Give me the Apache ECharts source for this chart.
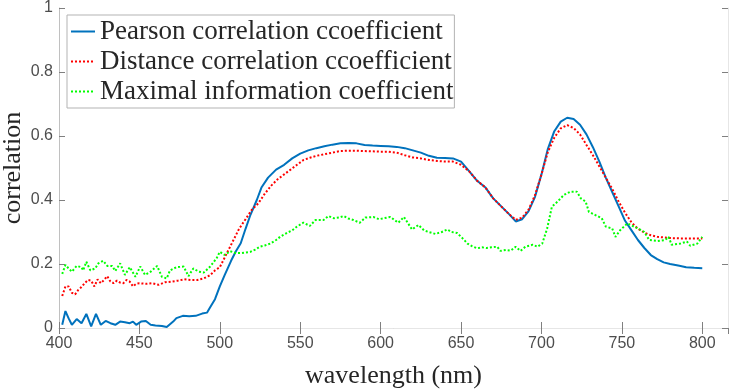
<!DOCTYPE html>
<html>
<head>
<meta charset="utf-8">
<script src="https://cdn.jsdelivr.net/npm/echarts@6/dist/echarts.min.js"></script>
<style>html,body{margin:0;padding:0;background:#fff;}#chart{width:732px;height:391px;}</style>
</head>
<body>
<div id="chart"></div>
<script>
var seriesNames = ['Pearson correlation ccoefficient', 'Distance correlation ccoefficient', 'Maximal information coefficient'];
var xTitle = 'wavelength (nm)';
var yTitle = 'correlation';

var pearsonWl = [402,404,406,408,411,414,417,420,423,426,429,432,435,438,441,444,446,448,451,454,457,460,464,467,471,473,477,481,485,489,492,494,497,500,503,507,510,513,516,519,523,526,530,535,540,545,550,555,560,565,570,575,580,585,590,595,600,605,610,615,620,625,630,635,640,645,650,655,660,665,670,675,680,684,688,692,696,700,704,708,712,716,720,724,728,732,736,740,744,748,752,756,760,764,768,772,776,780,785,790,795,800];
var pearsonVal = [0.01,0.053,0.03,0.01,0.028,0.015,0.044,0.005,0.044,0.01,0.022,0.015,0.01,0.02,0.018,0.015,0.02,0.01,0.02,0.022,0.01,0.008,0.006,0.003,0.02,0.031,0.038,0.037,0.038,0.045,0.048,0.065,0.09,0.13,0.165,0.21,0.24,0.265,0.31,0.353,0.4,0.44,0.47,0.495,0.51,0.53,0.545,0.555,0.562,0.568,0.573,0.577,0.578,0.577,0.572,0.57,0.569,0.568,0.566,0.562,0.555,0.548,0.538,0.532,0.531,0.53,0.52,0.49,0.46,0.44,0.405,0.38,0.355,0.333,0.34,0.365,0.41,0.48,0.56,0.615,0.645,0.657,0.653,0.635,0.605,0.565,0.52,0.47,0.425,0.38,0.335,0.305,0.275,0.25,0.228,0.215,0.205,0.2,0.195,0.19,0.188,0.187];

var distanceWl = [402,404,406,408,410,412,414,416,418,420,422,424,426,428,430,432,434,436,438,440,442,444,446,448,450,454,458,462,466,470,474,478,482,486,490,494,497,500,504,508,512,516,520,524,528,532,536,540,544,548,552,556,560,565,570,575,580,585,590,595,600,605,610,615,620,625,630,635,640,645,650,655,660,665,670,675,680,684,688,692,696,700,704,708,712,716,720,724,728,732,736,740,744,748,752,756,760,764,768,772,776,780,786,792,800];
var distanceVal = [0.10,0.13,0.13,0.11,0.105,0.119,0.128,0.14,0.15,0.148,0.13,0.152,0.14,0.15,0.162,0.145,0.14,0.148,0.142,0.14,0.15,0.145,0.13,0.138,0.14,0.138,0.14,0.135,0.143,0.145,0.148,0.152,0.15,0.15,0.155,0.165,0.18,0.19,0.23,0.27,0.31,0.34,0.37,0.39,0.42,0.445,0.465,0.48,0.495,0.51,0.525,0.532,0.538,0.543,0.548,0.553,0.554,0.554,0.553,0.552,0.551,0.551,0.548,0.54,0.533,0.53,0.525,0.522,0.52,0.52,0.51,0.49,0.46,0.44,0.405,0.38,0.355,0.338,0.345,0.37,0.415,0.48,0.55,0.595,0.624,0.634,0.625,0.605,0.572,0.54,0.505,0.47,0.435,0.395,0.36,0.33,0.31,0.298,0.29,0.285,0.283,0.281,0.28,0.28,0.28];

var micWl = [402,404,406,408,411,414,415,417,419.5,422.5,424.5,427.5,430,433,435,438,441,444,447.5,450.5,453.5,457,461,464,467,469,473,477.5,480.5,483.5,487,490,494,498,500,503,506.5,510,513,516,519,522,525,528,531.5,535,537.5,542,545,548,552,556,559.5,564.5,567.5,571,574,577,580,583,587,590.5,595.5,599,602,606,611,614.5,619.5,623.5,627,630,634,638,641.5,644,647.5,651,654,657,660,663,666,669,672.5,674.5,678,681,684,687,690,694.5,697.5,700.5,703.5,706.5,710,714,718,722,724.5,727.5,729.5,733.5,737.5,740,744,746,749,753.5,757.5,760.5,764,767,772,777,779,781,786.5,790.5,792.5,797,800];
var micVal = [0.169,0.197,0.186,0.176,0.194,0.19,0.18,0.207,0.18,0.186,0.202,0.21,0.194,0.194,0.178,0.202,0.166,0.19,0.16,0.192,0.166,0.176,0.194,0.16,0.155,0.18,0.19,0.192,0.162,0.186,0.176,0.173,0.192,0.218,0.238,0.228,0.24,0.234,0.234,0.236,0.238,0.245,0.254,0.258,0.264,0.275,0.285,0.298,0.305,0.317,0.329,0.319,0.3375,0.3375,0.35,0.343,0.345,0.35,0.342,0.3375,0.329,0.345,0.347,0.34,0.343,0.347,0.329,0.347,0.308,0.322,0.305,0.3,0.294,0.3,0.308,0.3,0.297,0.28,0.264,0.255,0.249,0.252,0.25,0.252,0.254,0.241,0.244,0.242,0.254,0.241,0.254,0.26,0.254,0.264,0.31,0.379,0.395,0.416,0.426,0.426,0.405,0.395,0.363,0.353,0.343,0.317,0.311,0.285,0.306,0.327,0.317,0.31,0.3,0.275,0.272,0.275,0.285,0.26,0.264,0.27,0.257,0.264,0.285];

function pairs(xs, ys) { return xs.map(function (x, i) { return [x, ys[i]]; }); }

var chart = echarts.init(document.getElementById('chart'), null, {renderer: 'canvas'});
var labelFont = {fontFamily: 'Liberation Sans', fontSize: 16, color: '#4d4d4d'};
var titleFont = {fontFamily: 'Liberation Serif', fontSize: 26, color: '#262626'};
var tickStyle = {show: true, inside: true, length: 6, lineStyle: {color: '#808080', width: 1}};

chart.setOption({
  animation: false,
  backgroundColor: '#ffffff',
  grid: {left: 59, right: 4, top: 8, bottom: 63, containLabel: false, outerBoundsMode: 'none'},
  legend: {
    left: 67, top: 15, orient: 'vertical',
    backgroundColor: '#ffffff', borderColor: '#b3b3b3', borderWidth: 1,
    padding: [3, 1, 3, 3], itemGap: 3, itemWidth: 24, itemHeight: 12,
    itemStyle: {opacity: 0},
    textStyle: {fontFamily: 'Liberation Serif', fontSize: 27, lineHeight: 27, color: '#262626'},
    data: seriesNames
  },
  xAxis: [{
    type: 'value', min: 400, max: 816, interval: 50,
    name: xTitle, nameLocation: 'middle', nameGap: 35, nameMoveOverlap: false, nameTextStyle: titleFont,
    axisLine: {show: true, lineStyle: {color: '#c0c0c0'}},
    axisTick: tickStyle,
    axisLabel: Object.assign({margin: 8, showMaxLabel: false}, labelFont),
    splitLine: {show: false}
  }, {
    type: 'value', position: 'top', min: 400, max: 816, interval: 50,
    axisLine: {show: true, lineStyle: {color: '#e6e6e6'}},
    axisTick: tickStyle, axisLabel: {show: false}, splitLine: {show: false}
  }],
  yAxis: [{
    type: 'value', min: 0, max: 1, interval: 0.2,
    name: yTitle, nameLocation: 'middle', nameGap: 33, nameRotate: 90, nameMoveOverlap: false, nameTextStyle: titleFont,
    axisLine: {show: true, lineStyle: {color: '#c0c0c0'}},
    axisTick: tickStyle,
    axisLabel: Object.assign({margin: 6}, labelFont),
    splitLine: {show: false}
  }, {
    type: 'value', position: 'right', min: 0, max: 1, interval: 0.2,
    axisLine: {show: true, lineStyle: {color: '#e6e6e6'}},
    axisTick: tickStyle, axisLabel: {show: false}, splitLine: {show: false}
  }],
  series: [{
    name: seriesNames[0], type: 'line', symbol: 'none', smooth: false,
    data: pairs(pearsonWl, pearsonVal),
    lineStyle: {color: '#0072BD', width: 2}, itemStyle: {color: '#0072BD'}, z: 3
  }, {
    name: seriesNames[1], type: 'line', symbol: 'none',
    data: pairs(distanceWl, distanceVal),
    lineStyle: {color: '#FF0000', width: 2, type: [2, 2]}, itemStyle: {color: '#FF0000'}, z: 4
  }, {
    name: seriesNames[2], type: 'line', symbol: 'none',
    data: pairs(micWl, micVal),
    lineStyle: {color: '#00FF00', width: 2, type: [2, 2]}, itemStyle: {color: '#00FF00'}, z: 5
  }]
});
</script>
</body>
</html>
